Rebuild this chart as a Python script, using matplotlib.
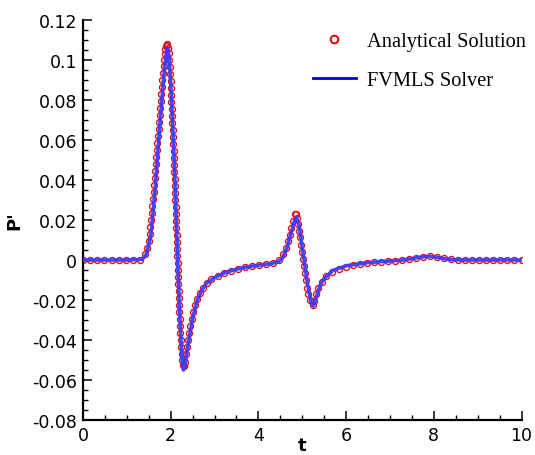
import matplotlib
matplotlib.use("Agg")
import matplotlib.pyplot as plt
from matplotlib.lines import Line2D
from matplotlib.ticker import MultipleLocator, FuncFormatter

# ----- DATA -----
# analytical solution: one entry per plotted circle
t_ana = [0.0, 0.16, 0.33, 0.49, 0.66, 0.82, 0.99, 1.15, 1.31,
         1.42, 1.46, 1.495, 1.517, 1.536, 1.554, 1.569, 1.583, 1.598, 1.611,
         1.623, 1.636, 1.648, 1.661, 1.673, 1.686, 1.698, 1.710, 1.722, 1.733,
         1.745, 1.757, 1.770, 1.782, 1.795, 1.808, 1.823, 1.838, 1.850, 1.865,
         1.878, 1.893, 1.910, 1.925, 1.940, 1.951, 1.966, 1.977, 1.986, 1.996,
         2.004, 2.011, 2.018, 2.025, 2.032, 2.039, 2.046, 2.053, 2.058, 2.064,
         2.070, 2.076, 2.082, 2.088, 2.093, 2.099, 2.105, 2.111, 2.117, 2.122,
         2.128, 2.134, 2.140, 2.146, 2.152, 2.157, 2.163, 2.169, 2.175, 2.181,
         2.187, 2.193, 2.198, 2.206, 2.213, 2.221, 2.229, 2.237, 2.249, 2.261,
         2.278, 2.295, 2.312, 2.325, 2.345, 2.372, 2.395, 2.417, 2.447, 2.478,
         2.513, 2.556, 2.600, 2.667, 2.740, 2.820, 2.930, 3.070, 3.210, 3.370,
         3.530, 3.690, 3.850, 4.010, 4.170, 4.330, 4.460, 4.560, 4.630, 4.680,
         4.715, 4.750, 4.790, 4.830, 4.855, 4.880, 4.900, 4.924, 4.947, 4.970,
         4.993, 5.016, 5.039, 5.062, 5.085, 5.109, 5.130, 5.175, 5.235, 5.275,
         5.320, 5.365, 5.440, 5.540, 5.680, 5.830, 5.990, 6.150, 6.310, 6.470,
         6.640, 6.800, 6.960, 7.120, 7.280, 7.440, 7.600, 7.760, 7.920, 8.080,
         8.240, 8.400, 8.560, 8.720, 8.880, 9.040, 9.200, 9.360, 9.520, 9.680,
         9.840, 10.0]
p_ana = [0.0, 0.0, 0.0, 0.0, 0.0, 0.0, 0.0, 0.0, 0.0002,
         0.003, 0.006, 0.0095, 0.013, 0.0165, 0.020, 0.0235, 0.027, 0.0305, 0.034,
         0.0375, 0.041, 0.0445, 0.048, 0.0515, 0.055, 0.0585, 0.062, 0.0655, 0.069,
         0.0725, 0.076, 0.0795, 0.083, 0.0865, 0.090, 0.0935, 0.097, 0.100, 0.103,
         0.1055, 0.1072, 0.108, 0.1075, 0.106, 0.1035, 0.100, 0.0965, 0.093, 0.0895,
         0.086, 0.0825, 0.079, 0.0755, 0.072, 0.0685, 0.065, 0.0615, 0.058, 0.0545,
         0.051, 0.0475, 0.044, 0.0405, 0.037, 0.0335, 0.030, 0.0265, 0.023, 0.0195,
         0.016, 0.0125, 0.009, 0.0055, 0.002, -0.0015, -0.005, -0.0085, -0.012, -0.0155,
         -0.019, -0.0225, -0.026, -0.0295, -0.033, -0.0365, -0.040, -0.0435, -0.047, -0.050,
         -0.0525, -0.053, -0.0523, -0.0508, -0.047, -0.0435, -0.040, -0.0365, -0.033, -0.0295,
         -0.026, -0.0227, -0.0195, -0.0165, -0.0138, -0.0115, -0.0097, -0.0080, -0.0066, -0.0055,
         -0.0045, -0.0037, -0.0031, -0.0026, -0.0021, -0.0015, -0.0001, 0.0029, 0.0061, 0.0096,
         0.0125, 0.016, 0.0193, 0.0228, 0.0228, 0.021, 0.018, 0.0146, 0.0113, 0.0077,
         0.0041, 0.0005, -0.0031, -0.0067, -0.0102, -0.0138, -0.017, -0.0201, -0.0225, -0.0205,
         -0.0171, -0.0139, -0.0109, -0.0080, -0.0058, -0.0044, -0.0033, -0.0024, -0.0019, -0.0015,
         -0.0011, -0.0008, -0.0005, -0.0003, 0.0, 0.0005, 0.0011, 0.0017, 0.0020, 0.0015,
         0.0008, 0.0003, 0.0, 0.0, 0.0, 0.0, 0.0, 0.0, 0.0, 0.0,
         0.0, 0.0]

# FVMLS solver
t_sol = [0.0, 1.0, 1.35, 1.45, 1.55, 1.65, 1.75, 1.85, 1.89, 1.92, 1.95,
         1.97, 2.02, 2.08, 2.14, 2.20, 2.25, 2.29, 2.33, 2.40, 2.50,
         2.60, 2.70, 2.80, 3.00, 3.25, 3.50, 3.75, 4.00, 4.25, 4.45,
         4.55, 4.65, 4.75, 4.82, 4.87, 4.93, 5.02, 5.12, 5.20, 5.25,
         5.30, 5.40, 5.50, 5.70, 6.00, 6.50, 7.00, 7.30, 7.50, 7.70,
         7.90, 8.10, 8.30, 8.60, 10.0]
p_sol = [0.0, 0.0, 0.0003, 0.003, 0.013, 0.037, 0.067, 0.094, 0.102, 0.106, 0.104,
         0.100, 0.080, 0.050, 0.012, -0.025, -0.047, -0.055, -0.052, -0.042, -0.029,
         -0.0205, -0.0155, -0.012, -0.0088, -0.0062, -0.0046, -0.0034, -0.0026, -0.0019, -0.001,
         0.001, 0.006, 0.014, 0.0195, 0.0213, 0.017, 0.003, -0.012, -0.021, -0.023,
         -0.020, -0.013, -0.0092, -0.0052, -0.0029, -0.0013, -0.0005, 0.0, 0.0007, 0.0014,
         0.0019, 0.0013, 0.0004, 0.0, 0.0]

x_ticks = [0, 2, 4, 6, 8, 10]
y_ticks = [-0.08, -0.06, -0.04, -0.02, 0, 0.02, 0.04, 0.06, 0.08, 0.1, 0.12]

# ----- FIGURE -----
fig = plt.figure(figsize=(5.35, 4.56), dpi=100)
ax = fig.add_axes([83/535, 1-421/456, 438.5/535, 400/456])

ax.plot(t_ana, p_ana, ls='none', marker='o', ms=4.3, mfc='none',
        mec='#e01010', mew=1.0, zorder=2)
ax.plot(t_sol, p_sol, color='#3c3cff', lw=2.6, alpha=0.95,
        solid_joinstyle='round', zorder=3)

ax.set_xlim(0, 10)
ax.set_ylim(-0.08, 0.12)
ax.set_xticks(x_ticks)
ax.set_yticks(y_ticks)
ax.xaxis.set_minor_locator(MultipleLocator(0.5))
ax.yaxis.set_minor_locator(MultipleLocator(0.005))
ax.yaxis.set_major_formatter(FuncFormatter(lambda v, p: '%g' % round(v, 4)))
ax.xaxis.set_major_formatter(FuncFormatter(lambda v, p: '%g' % v))

for s in ['top', 'right']:
    ax.spines[s].set_visible(False)
for s in ['left', 'bottom']:
    ax.spines[s].set_linewidth(1.6)

ax.tick_params(which='major', direction='in', length=6.5, width=1.1, pad=4.3)
ax.tick_params(which='minor', direction='in', length=3.6, width=1.0)
for lab in ax.get_xticklabels() + ax.get_yticklabels():
    lab.set_fontfamily('DejaVu Sans')
    lab.set_fontsize(12.5)

ax.set_xlabel('t', fontfamily='DejaVu Sans', fontsize=13, fontweight='bold')
ax.set_ylabel("P'", fontfamily='DejaVu Sans', fontsize=13, fontweight='bold')
ax.xaxis.set_label_coords(0.5, -0.04)
ax.yaxis.set_label_coords(-0.135, 0.5)

# legend
h_ana = Line2D([], [], ls='none', marker='o', ms=5.5, mfc='none', mec='#e01010', mew=1.5)
h_sol = Line2D([], [], color='#0000c8', lw=2.0)
ax.legend([h_ana, h_sol], ['Analytical Solution', 'FVMLS Solver'],
          loc='upper left', bbox_to_anchor=(313/535, 1-33/456),
          bbox_transform=fig.transFigure, frameon=False, borderpad=0,
          borderaxespad=0, handlelength=2.1, handletextpad=0.55,
          labelspacing=0.95, prop={'family': 'Liberation Serif', 'size': 14.7})

fig.savefig('out.png', dpi=100)
